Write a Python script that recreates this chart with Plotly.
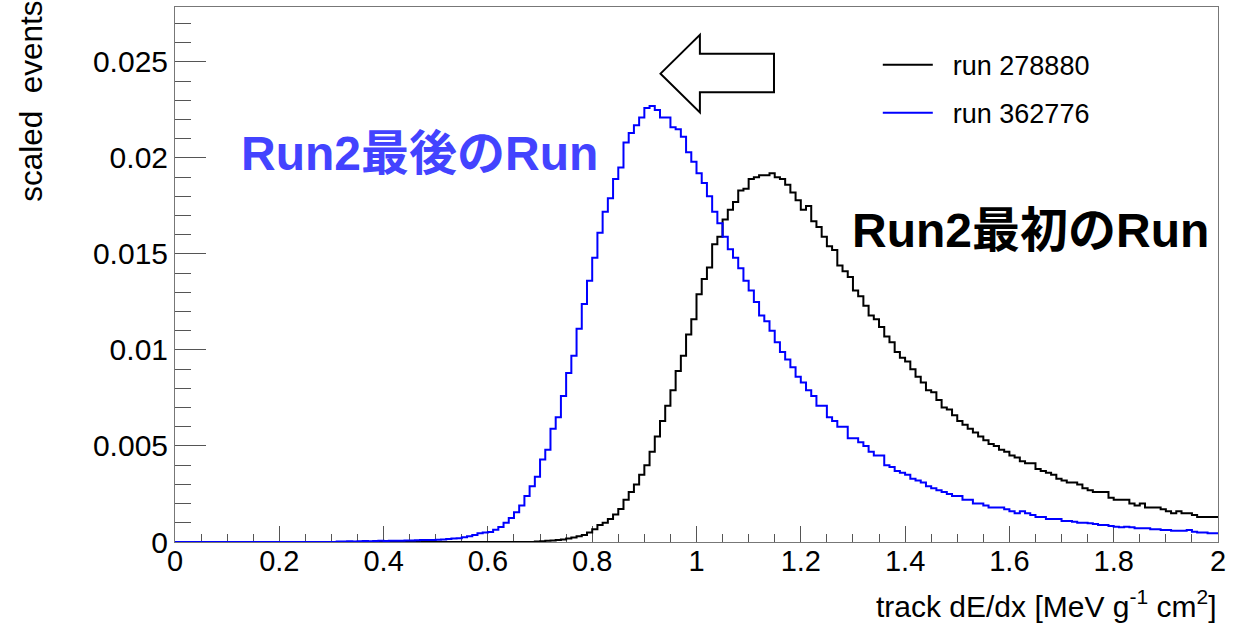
import plotly.graph_objects as go

# ---------------- data ----------------
BIN_LOW = 0.0
BIN_WIDTH = 0.01
N_BINS = 200

# run 278880 (black), bins 0.00 .. 1.99
run_278880 = [0.0] * 69 + [
    0.00002, 0.00004, 0.00006, 0.00008, 0.0001, 0.00013, 0.00018, 0.00024, 0.0003, 0.00037,   # 0.69-0.78
    0.0005, 0.00066, 0.00089, 0.0010, 0.0012, 0.00143, 0.00172, 0.0022, 0.0026, 0.0030,        # 0.79-0.88
    0.0035, 0.0040, 0.0047, 0.0055, 0.0063, 0.0071, 0.0079, 0.0089, 0.0097, 0.0108,            # 0.89-0.98
    0.0116, 0.0129, 0.0137, 0.0143, 0.0155, 0.0159, 0.0168, 0.0173, 0.0177, 0.0183,            # 0.99-1.08
    0.0184, 0.0189, 0.0190, 0.0191, 0.0191, 0.0192, 0.0190, 0.0189, 0.0186, 0.0182,            # 1.09-1.18
    0.0178, 0.0173, 0.0175, 0.0167, 0.0164, 0.0159, 0.0154, 0.0152, 0.0144, 0.0141,            # 1.19-1.28
    0.0138, 0.0131, 0.0128, 0.0123, 0.0118, 0.0116, 0.0112, 0.0107, 0.0104, 0.0099,            # 1.29-1.38
    0.0096, 0.0094, 0.0090, 0.0086, 0.0083, 0.0079, 0.0078, 0.0074, 0.0070, 0.0069,            # 1.39-1.48
    0.0066, 0.0063, 0.0061, 0.0059, 0.0057, 0.0055, 0.0053, 0.0051, 0.0050, 0.0048,            # 1.49-1.58
    0.0047, 0.0045, 0.0044, 0.0042, 0.0041, 0.0041, 0.0038, 0.0037, 0.0036, 0.0035,            # 1.59-1.68
    0.0033, 0.0032, 0.0031, 0.0031, 0.0030, 0.0028, 0.0027, 0.0026, 0.0026, 0.0026,            # 1.69-1.78
    0.0023, 0.0022, 0.0022, 0.0022, 0.0020, 0.0019, 0.0020, 0.0018, 0.0018, 0.0018,            # 1.79-1.88
    0.0017, 0.0016, 0.0015, 0.0016, 0.0015, 0.0015, 0.0014, 0.0013, 0.0013, 0.0013,            # 1.89-1.98
    0.0013,                                                                                    # 1.99
]

# run 362776 (blue), bins 0.00 .. 1.99
run_362776 = [0.0] * 31 + [
    0.00003, 0.00002, 0.00004, 0.00003, 0.00004, 0.00005, 0.00004, 0.00005, 0.00006,            # 0.31-0.39
    0.00005, 0.00006, 0.00007, 0.00006, 0.00008, 0.00008, 0.00009, 0.0001, 0.0001, 0.00011,    # 0.40-0.49
    0.00012, 0.00013, 0.00015, 0.00018, 0.0002, 0.00025, 0.0003, 0.00036, 0.00045, 0.0005,     # 0.50-0.59
    0.00052, 0.00064, 0.00078, 0.0010, 0.00125, 0.00155, 0.0019, 0.0024, 0.0029, 0.0034,       # 0.60-0.69
    0.0043, 0.0048, 0.0059, 0.0065, 0.0076, 0.0088, 0.0097, 0.0111, 0.0124, 0.0136,            # 0.70-0.79
    0.0148, 0.0161, 0.0172, 0.0179, 0.0189, 0.0195, 0.0208, 0.0213, 0.0217, 0.0221,            # 0.80-0.89
    0.0226, 0.0227, 0.0225, 0.0221, 0.0221, 0.0216, 0.0215, 0.0211, 0.0203, 0.0198,            # 0.90-0.99
    0.0192, 0.0187, 0.0180, 0.0172, 0.0166, 0.0159, 0.01525, 0.0148, 0.01425, 0.0136,          # 1.00-1.09
    0.0131, 0.0125, 0.0118, 0.0115, 0.0110, 0.0104, 0.0099, 0.0095, 0.0091, 0.0086,            # 1.10-1.19
    0.0083, 0.0079, 0.0076, 0.0071, 0.0071, 0.0065, 0.0063, 0.0060, 0.0060, 0.0054,            # 1.20-1.29
    0.0054, 0.0052, 0.0050, 0.0047, 0.0045, 0.0045, 0.0040, 0.0039, 0.0037, 0.0036,            # 1.30-1.39
    0.0035, 0.0033, 0.0032, 0.0031, 0.0029, 0.0028, 0.0027, 0.0026, 0.0025, 0.0024,            # 1.40-1.49
    0.0024, 0.0022, 0.0022, 0.0020, 0.0020, 0.0019, 0.0018, 0.0018, 0.0018, 0.0017,            # 1.50-1.59
    0.0016, 0.0015, 0.0016, 0.0015, 0.0014, 0.0013, 0.0013, 0.0012, 0.0012, 0.0012,            # 1.60-1.69
    0.0011, 0.0011, 0.00106, 0.0010, 0.0010, 0.00097, 0.00094, 0.00089, 0.00089, 0.00083,      # 1.70-1.79
    0.0008, 0.00077, 0.0008, 0.00077, 0.00071, 0.00071, 0.00071, 0.00066, 0.00066, 0.00063,    # 1.80-1.89
    0.00063, 0.00059, 0.00059, 0.00059, 0.00063, 0.00054, 0.00049, 0.00049, 0.00045, 0.00045,  # 1.90-1.99
]

series_names = ["run 278880", "run 362776"]
series_colors = ["#000000", "#0000ff"]

x_title = "track dE/dx [MeV g<sup>-1</sup> cm<sup>2</sup>]"
y_title = "scaled\u00a0\u00a0events"
label_last = "Run2最後のRun"
label_first = "Run2最初のRun"

# arrow outline (data coordinates)
arrow_x = [0.931, 1.0065, 1.0065, 1.1486, 1.1486, 1.0065, 1.0065]
arrow_y = [0.02439, 0.02641, 0.02542, 0.02542, 0.02342, 0.02342, 0.02237]

# ---------------- figure ----------------
edges = [BIN_LOW + i * BIN_WIDTH for i in range(N_BINS + 1)]

fig = go.Figure()
for name, vals, col in zip(series_names, [run_278880, run_362776], series_colors):
    fig.add_trace(go.Scatter(
        x=edges,
        y=list(vals) + [vals[-1]],
        mode="lines",
        line=dict(color=col, width=2, shape="hv"),
        name="\u00a0\u00a0" + name,
        legendgroup=name,
    ))

FONT = "Liberation Sans, Arial, Noto Sans CJK JP, sans-serif"

fig.update_layout(
    width=1236, height=623,
    margin=dict(l=175, r=18, t=7, b=81),
    paper_bgcolor="white", plot_bgcolor="white",
    font=dict(family=FONT, color="black", size=26),
    showlegend=True,
    legend=dict(
        x=(878 - 175) / 1043.3, y=(542.3 - 41) / 535,
        xanchor="left", yanchor="top",
        bgcolor="rgba(0,0,0,0)", borderwidth=0,
        font=dict(family=FONT, size=27, color="black"),
        itemwidth=50, tracegroupgap=10,
    ),
    xaxis=dict(
        range=[0, 2], dtick=0.2, tick0=0,
        ticks="inside", ticklen=16, tickwidth=1, tickcolor="#555",
        minor=dict(dtick=0.05, ticks="inside", ticklen=8, tickwidth=1, tickcolor="#555"),
        showline=True, linecolor="#777", linewidth=1, mirror=True,
        showgrid=False, zeroline=False, layer="below traces",
        tickfont=dict(family=FONT, size=29, color="black"),
        ticklabelstandoff=-7,
        exponentformat="none", automargin=False,
    ),
    yaxis=dict(
        range=[0, 0.02786], dtick=0.005, tick0=0,
        ticks="inside", ticklen=31, tickwidth=1, tickcolor="#555",
        minor=dict(dtick=0.001, ticks="inside", ticklen=16, tickwidth=1, tickcolor="#555"),
        showline=True, linecolor="#777", linewidth=1, mirror=True,
        showgrid=False, zeroline=False, layer="below traces",
        tickfont=dict(family=FONT, size=30, color="black"),
        exponentformat="none", automargin=False,
    ),
)

# arrow shape
path = "M " + " L ".join(f"{x},{y}" for x, y in zip(arrow_x, arrow_y)) + " Z"
fig.add_shape(type="path", path=path, xref="x", yref="y",
              line=dict(color="black", width=2), fillcolor="white", layer="above")

# labels
fig.add_annotation(text=label_last, xref="paper", yref="paper",
                   x=(239 - 175) / 1043.3, y=(542.3 - 154) / 535,
                   xanchor="left", yanchor="middle", showarrow=False,
                   font=dict(family=FONT, size=48, color="#4343ff", weight="bold"))
fig.add_annotation(text=label_first, xref="paper", yref="paper",
                   x=(850 - 175) / 1043.3, y=(542.3 - 231) / 535,
                   xanchor="left", yanchor="middle", showarrow=False,
                   font=dict(family=FONT, size=48, color="black", weight="bold"))

# axis titles (ROOT style: aligned to the axis ends)
fig.add_annotation(text=x_title, xref="paper", yref="paper",
                   x=1.0, y=(542.3 - 604) / 535,
                   xanchor="right", yanchor="middle", showarrow=False,
                   font=dict(family=FONT, size=30, color="black"))
fig.add_annotation(text=y_title, xref="paper", yref="paper",
                   x=(31.5 - 175) / 1043.3, y=(542.3 + 1) / 535,
                   xanchor="center", yanchor="top", textangle=-90, showarrow=False,
                   font=dict(family=FONT, size=31.5, color="black"))

fig.write_html("out.html", config={"displayModeBar": False},
               post_script="document.body.style.margin='0';")
